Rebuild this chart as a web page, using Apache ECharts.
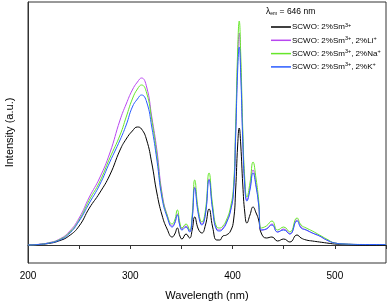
<!DOCTYPE html>
<html><head><meta charset="utf-8">
<script src="https://cdn.jsdelivr.net/npm/echarts@6/dist/echarts.min.js"></script>
<style>html,body{margin:0;padding:0;background:#fff}#c{width:388px;height:305px}</style>
</head><body><div id="c"></div>
<script>
const wavelengths = [200,210,220,230,240,250,260,270,280,290,296,302,307,311,316,321,326,331,336,341,343.5,346,348.5,350.5,354.5,358,360.5,363,366.5,370,373.5,377,380.5,384.5,387.5,390.5,394,398,401,403,405,406.5,408,410,412,414,417,420,423,425.5,428,433,438.5,444,450,456,463,467,472,478,485,492,500,510,530,550];
const smOnly = [0,0.5,1.5,4,9,19,37,52,70,95,106,114,118,116,105,82,52,30,16,8,11,17,9,6,11,7,15,28,16,12,20,36,18,5,5,9,10,14,25,55,100,117,100,60,32,22,30,38,32,25,12,7,8,4,6,3,10,7,5,4,3,2,1,0.5,0,0];
const smLi = [0,0.6,2.2,5.5,13,27,48,67,92,125,141,155,163,167,158,128,95,52,30,19,22,31,20,16,19,14,27,58,33,21,32,66,37,16,15,17,23,35,56,112,185,212,178,108,60,45,57,75,60,41,15,16,21,13,16,11,25,18,15,12,9,5,2,1,0.5,0.5];
const smNa = [0,0.5,2,5,12,25,45,63,87,110,128,146,156,160,152,125,90,50,30,21,25,35,22,17,21,15,30,65,35,23,35,72,40,18,17,19,25,38,60,120,195,224,190,115,65,48,62,83,66,45,17,19,24,15,18,13,27,20,17,14,10,6,2,1,0.5,0.5];
const smK = [0,0.5,1.8,4.5,11,24,42,60,83,105,120,138,146,150,143,118,85,47,28,18,22,30,19,15,18,13,26,57,31,20,31,65,35,15,14,16,22,34,54,108,175,198,170,103,58,44,55,72,58,40,15,16,20,13,15,11,24,17,15,12,9,5,2,1,0.5,0.5];
const xTicks = [200,300,400,500];
const seriesNames = ['Sm','Li','Na','K'];
const legendLabels = {
  Sm: 'SCWO: 2%Sm{s|3+}',
  Li: 'SCWO: 2%Sm{s|3+}, 2%Li{s|+}',
  Na: 'SCWO: 2%Sm{s|3+}, 2%Na{s|+}',
  K: 'SCWO: 2%Sm{s|3+}, 2%K{s|+}'
};
const colors = ['#000000','#b846f0','#66e62a','#2a5cff'];
const values = [smOnly, smLi, smNa, smK];

const font2 = 'Liberation Sans, Arial, sans-serif';
const chart = echarts.init(document.getElementById('c'));
chart.setOption({
  animation: false,
  grid: {left: 28, right: 2, top: 2, bottom: 42, show: true, borderColor: '#333', borderWidth: 1,
    containLabel: false, outerBoundsMode: 'none'},
  xAxis: {
    type: 'value', min: 200, max: 550, interval: 100,
    axisLine: {lineStyle: {color: '#333'}},
    axisTick: {show: true, inside: false, length: 4, lineStyle: {color: '#333'}},
    minorTick: {show: true, splitNumber: 2, length: 4, lineStyle: {color: '#333'}},
    splitLine: {show: false},
    axisLabel: {fontFamily: font2, fontSize: 10, color: '#000', margin: 8,
      formatter: v => xTicks.includes(v) ? String(v) : ''},
    name: 'Wavelength (nm)', nameLocation: 'middle', nameGap: 27,
    nameTextStyle: {fontFamily: font2, fontSize: 11, color: '#000'}
  },
  yAxis: {
    type: 'value', min: -18, max: 243,
    axisLine: {show: true, lineStyle: {color: '#333'}},
    axisTick: {show: false}, axisLabel: {show: false}, splitLine: {show: false},
    name: 'Intensity (a.u.)', nameLocation: 'middle', nameGap: 13,
    nameTextStyle: {fontFamily: font2, fontSize: 11, color: '#000'}
  },
  legend: {
    orient: 'vertical', left: 266, top: 17, itemWidth: 20, itemHeight: 1.5, itemGap: 4.3,
    icon: 'rect', data: seriesNames,
    formatter: n => legendLabels[n],
    textStyle: {fontFamily: font2, fontSize: 8, color: '#000', padding: [0,0,0,-4],
      rich: {s: {fontFamily: font2, fontSize: 5.5, color: '#000', verticalAlign: 'top', padding: [0,0,4,0]}}}
  },
  graphic: [{
    type: 'text', left: 266, top: 7,
    style: {text: '{a|λ}{b|em}{a| = 646 nm}', rich: {
      a: {fontFamily: font2, fontSize: 8.5, fill: '#000'},
      b: {fontFamily: font2, fontSize: 5, fill: '#000', verticalAlign: 'bottom', padding: [3,0,0,0]}
    }}
  }],
  series: seriesNames.map((n, i) => ({
    name: n, type: 'line', showSymbol: false, symbol: 'none',
    smooth: 0.5,
    lineStyle: {width: 1, color: colors[i]}, itemStyle: {color: colors[i]},
    data: wavelengths.map((w, k) => [w, values[i][k]])
  }))
});
</script></body></html>
